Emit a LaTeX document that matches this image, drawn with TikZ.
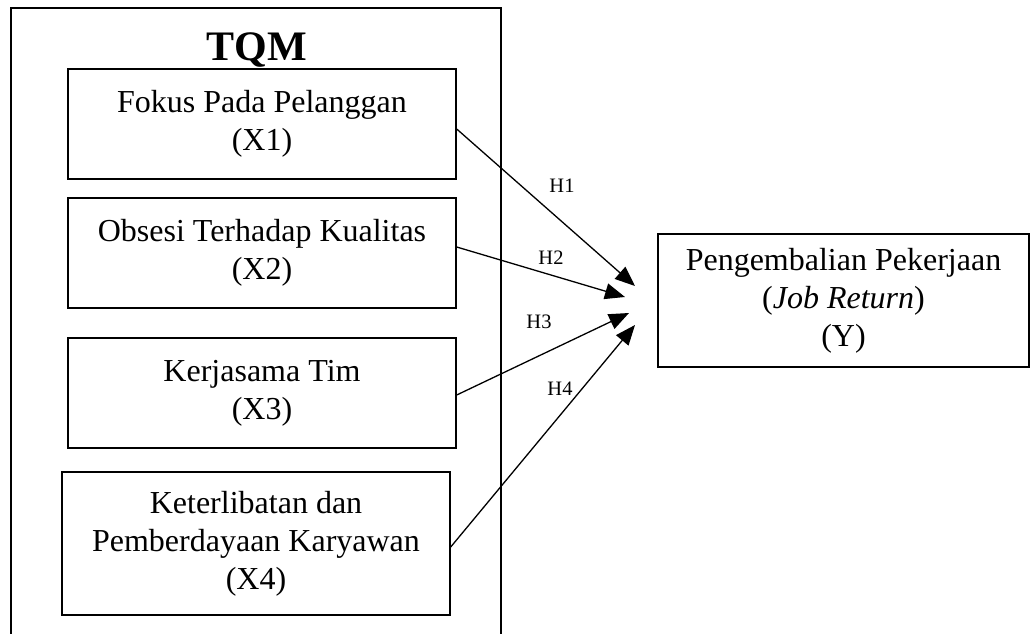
\documentclass[tikz,border=0pt]{standalone}
\usepackage{fontspec}
\setmainfont{Liberation Serif}
\usetikzlibrary{arrows.meta}
\begin{document}
\begin{tikzpicture}[x=1pt,y=-1pt,
  box/.style={draw, line width=1.4pt, inner sep=0pt, align=center,
    font=\fontsize{32}{38}\selectfont},
  frame/.style={draw, line width=1.4pt, inner sep=0pt},
  arr/.style={line width=1.3pt, -{Triangle[length=20pt,width=16pt]}},
  hlab/.style={font=\fontsize{20.5}{24}\selectfont, anchor=base, inner sep=0pt}]
\useasboundingbox (0,0) rectangle (1031,634);
\node[frame, minimum width=490pt, minimum height=640pt] (outer) at (256,328) {};
\node[font=\fontsize{42}{48}\selectfont\bfseries, anchor=base, inner sep=0pt] (tqm) at (257,60) {TQM};
\node[box, minimum width=388pt, minimum height=110pt] (x1) at (262,124) {Fokus Pada Pelanggan\\(X1)};
\node[box, minimum width=388pt, minimum height=110pt] (x2) at (262,253) {Obsesi Terhadap Kualitas\\(X2)};
\node[box, minimum width=388pt, minimum height=110pt] (x3) at (262,393) {Kerjasama Tim\\(X3)};
\node[box, minimum width=388pt, minimum height=143pt] (x4) at (256,543.5) {Keterlibatan dan\\Pemberdayaan Karyawan\\(X4)};
\node[box, minimum width=371pt, minimum height=133pt] (y) at (843.5,300.5) {Pengembalian Pekerjaan\\(\textit{Job Return})\\(Y)};
\coordinate (t1) at (635,286);
\coordinate (t2) at (625,297);
\coordinate (t3) at (629,313);
\coordinate (t4) at (635,325);
\draw[arr] ([yshift=-5pt]x1.east) -- (t1);
\draw[arr] ([yshift=6pt]x2.east) -- (t2);
\draw[arr] ([yshift=-2pt]x3.east) -- (t3);
\draw[arr] ([yshift=-3.5pt]x4.east) -- (t4);
\node[hlab] (h1) at (562,192) {H1};
\node[hlab] (h2) at (551,264) {H2};
\node[hlab] (h3) at (539,328) {H3};
\node[hlab] (h4) at (560,395) {H4};
\end{tikzpicture}
\end{document}
